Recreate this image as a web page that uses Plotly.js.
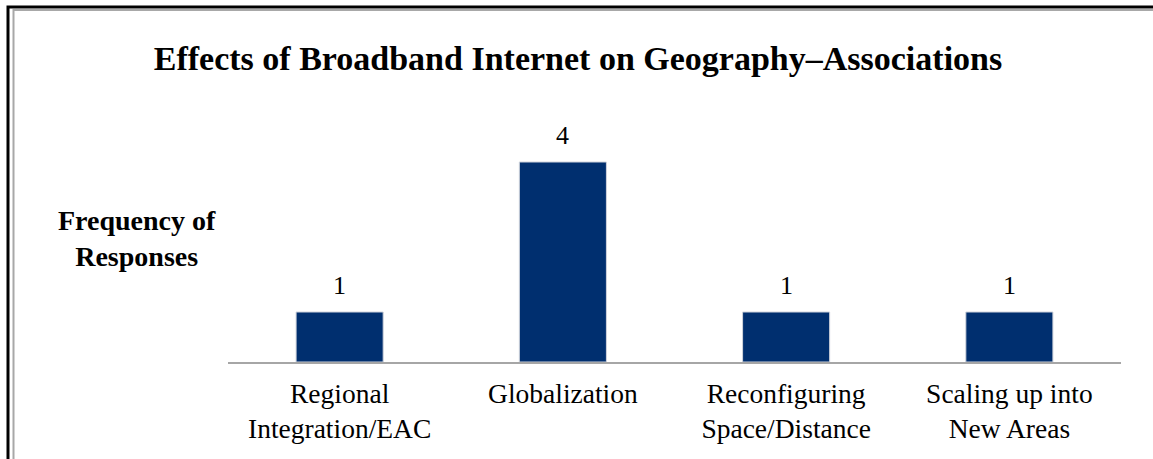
<!DOCTYPE html>
<html>
<head>
<meta charset="utf-8">
<script src="https://cdn.plot.ly/plotly-3.0.1.min.js"></script>
<style>
html,body{margin:0;padding:0;background:#fff;overflow:hidden;}
#chart{width:1153px;height:459px;}
</style>
</head>
<body>
<div id="chart"></div>
<script>
const categories = ["Regional<br>Integration/EAC", "Globalization", "Reconfiguring<br>Space/Distance", "Scaling up into<br>New Areas"];
const frequencies = [1, 4, 1, 1];
const chartTitle = "Effects of Broadband Internet on Geography\u2013Associations";
const yTitle = "Frequency of<br>Responses";

const W = 1153, H = 459;
const m = {l: 228, r: 32, t: 137, b: 97};
const pw = W - m.l - m.r, ph = H - m.t - m.b;
const px = x => (x - m.l) / pw;
const py = y => (H - m.b - y) / ph;

const trace = {
  type: 'bar',
  x: categories,
  y: frequencies,
  marker: {color: '#002f6f', line: {color: '#d0d4dc', width: 1}},
  hoverinfo: 'none'
};

const valueLabels = categories.map((c, i) => ({
  x: c, y: frequencies[i], xref: 'x', yref: 'y',
  text: String(frequencies[i]),
  showarrow: false, yanchor: 'bottom', yshift: 10,
  font: {family: 'Liberation Serif, serif', size: 26, color: '#000'}
}));

const layout = {
  width: W, height: H,
  margin: m,
  paper_bgcolor: '#fff', plot_bgcolor: '#fff',
  bargap: 0.61,
  showlegend: false,
  font: {family: 'Liberation Serif, serif', color: '#000'},
  title: {
    text: '<b>' + chartTitle + '</b>',
    font: {family: 'Liberation Serif, serif', size: 34, color: '#000'},
    x: 578 / W, xref: 'container', xanchor: 'center',
    y: 1 - 58 / H, yanchor: 'middle'
  },
  xaxis: {
    showline: true, linecolor: '#a6a6a6', linewidth: 1.5,
    showgrid: false, zeroline: false, ticks: '',
    ticklabelstandoff: 6,
    tickfont: {family: 'Liberation Serif, serif', size: 27.5, color: '#000'},
    fixedrange: true
  },
  yaxis: {
    range: [0, 4.5], visible: false, showgrid: false, zeroline: false, fixedrange: true
  },
  annotations: valueLabels.concat([{
    text: '<b>' + yTitle + '</b>',
    xref: 'paper', yref: 'paper',
    x: px(137), y: py(238), xanchor: 'center', yanchor: 'middle',
    showarrow: false,
    font: {family: 'Liberation Serif, serif', size: 28, color: '#000'}
  }]),
  shapes: [
    {type: 'path', xref: 'paper', yref: 'paper',
     path: 'M ' + px(13.5) + ',' + py(H + 5) + ' L ' + px(13.5) + ',' + py(10) + ' L ' + px(W + 5) + ',' + py(10),
     line: {color: '#a8a8a8', width: 2}},
    {type: 'path', xref: 'paper', yref: 'paper',
     path: 'M ' + px(8) + ',' + py(H + 5) + ' L ' + px(8) + ',' + py(7) + ' L ' + px(W + 5) + ',' + py(7),
     line: {color: '#000', width: 3}}
  ]
};

Plotly.newPlot('chart', [trace], layout, {displayModeBar: false, staticPlot: true});
</script>
</body>
</html>
